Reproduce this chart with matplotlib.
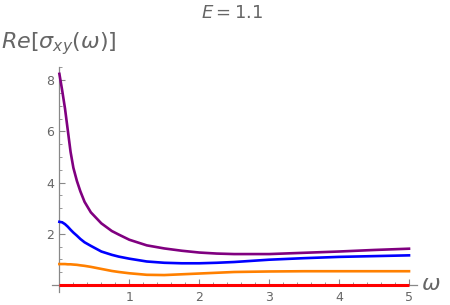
import matplotlib
matplotlib.use("Agg")
import matplotlib.pyplot as plt
from matplotlib.ticker import MultipleLocator

# values
omega = [0, 0.04, 0.08, 0.12, 0.16, 0.2, 0.25, 0.3, 0.36, 0.45, 0.6, 0.75, 0.85,
         1.0, 1.25, 1.5, 1.75, 2.0, 2.25, 2.5, 3.0, 3.5, 4.0, 4.5, 5.0]
purple_vals = [8.25, 7.6, 6.9, 6.05, 5.2, 4.58, 4.07, 3.66, 3.25, 2.84, 2.41, 2.11, 1.97,
               1.77, 1.55, 1.43, 1.34, 1.27, 1.23, 1.21, 1.21, 1.26, 1.31, 1.37, 1.42]
blue_vals = [2.47, 2.45, 2.38, 2.28, 2.16, 2.05, 1.93, 1.80, 1.67, 1.53, 1.31, 1.18, 1.11,
             1.03, 0.92, 0.87, 0.85, 0.85, 0.87, 0.90, 0.99, 1.05, 1.10, 1.13, 1.16]
orange_vals = [0.82, 0.82, 0.82, 0.81, 0.81, 0.80, 0.79, 0.77, 0.75, 0.71, 0.63, 0.55, 0.51,
               0.46, 0.40, 0.39, 0.42, 0.45, 0.48, 0.51, 0.53, 0.54, 0.54, 0.54, 0.54]
red_omega = [0, 5.0]
red_vals = [0, 0]

TEXT = "#666666"
AXIS = "#888888"

fig = plt.figure(figsize=(4.5, 3.05), dpi=100)
W, H = 450, 305
ax = fig.add_axes([51.7 / W, (H - 291.7) / H, (416.7 - 51.7) / W, (291.7 - 66.7) / H])
ax.set_xlim(-0.11, 5.11)
ax.set_ylim(-0.26, 8.53)

ax.plot(red_omega, red_vals, color="#ff0000", lw=2.2, solid_capstyle="butt", zorder=3)
ax.plot(omega, orange_vals, color="#ff8000", lw=1.9, zorder=3)
ax.plot(omega, blue_vals, color="#0000ff", lw=1.9, zorder=3)
ax.plot(omega, purple_vals, color="#800080", lw=1.9, zorder=3)

# Mathematica-style axes crossing at the origin
for s in ["top", "right"]:
    ax.spines[s].set_visible(False)
ax.spines["left"].set_position(("data", 0))
ax.spines["bottom"].set_position(("data", 0))
for s in ["left", "bottom"]:
    ax.spines[s].set_color(AXIS)
    ax.spines[s].set_linewidth(0.9)

ax.xaxis.set_minor_locator(MultipleLocator(0.2))
ax.yaxis.set_minor_locator(MultipleLocator(0.5))
ax.set_xticks([1, 2, 3, 4, 5])
ax.set_yticks([2, 4, 6, 8])
ax.tick_params(which="major", direction="in", length=4, width=0.8, color=AXIS,
               labelcolor=TEXT, labelsize=9)
ax.tick_params(which="minor", direction="in", length=2.5, width=0.6, color=AXIS)
ax.tick_params(axis="x", pad=4)
ax.tick_params(axis="y", pad=4)

fig.text(59 / W, 1 - 44 / H, r"$Re[\sigma_{xy}(\omega)]$", color=TEXT, fontsize=16,
         ha="center", va="center")
fig.text(431 / W, 1 - 284 / H, r"$\omega$", color=TEXT, fontsize=16,
         ha="center", va="center")
fig.text(232 / W, 1 - 13 / H, r"$E=1.1$", color=TEXT, fontsize=13,
         ha="center", va="center")

fig.savefig("out.png", dpi=100)
